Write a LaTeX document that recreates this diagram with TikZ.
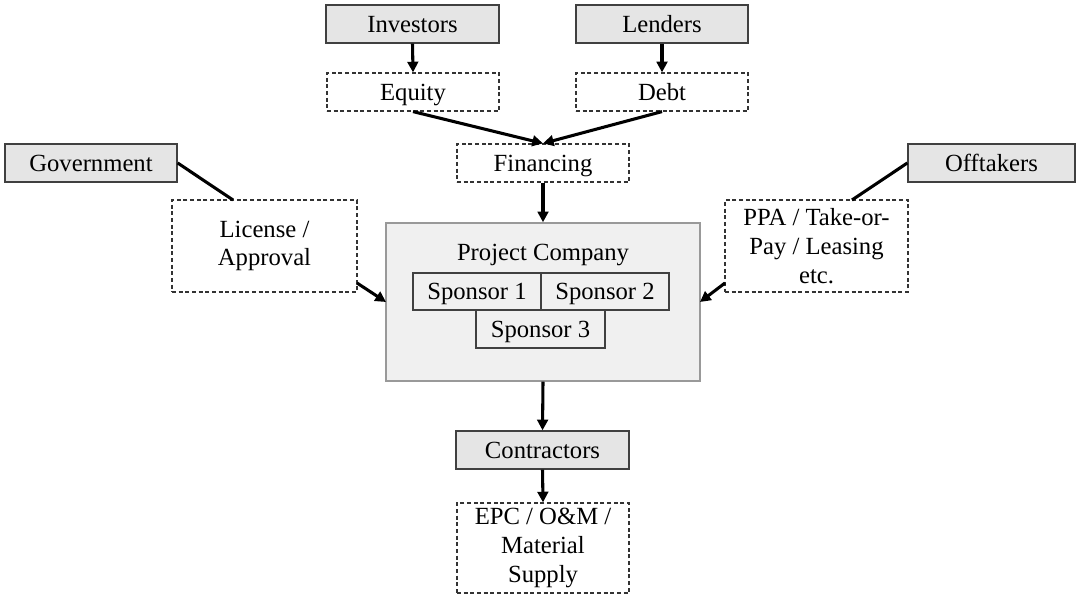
\documentclass[tikz,border=0pt]{standalone}
\usepackage{fontspec}
\setmainfont{Liberation Serif}
\usetikzlibrary{arrows.meta,calc}
\begin{document}
\begin{tikzpicture}[x=0.75pt,y=-0.75pt,
  every node/.style={font=\fontsize{18.5}{21.5}\selectfont, inner sep=0pt, align=center},
  oneline/.style={text height=12.2pt, text depth=0pt},
  solidbox/.style={oneline, draw=black!75, fill=black!10, line width=1pt},
  dashbox/.style={draw=black!80, dashed, dash pattern=on 3pt off 2pt, line width=0.9pt},
  pcbox/.style={draw=black!40, fill=black!6, line width=1.1pt},
  spbox/.style={oneline, draw=black!75, fill=black!6, line width=1pt},
  arr/.style={line width=2.3pt, -{Triangle[length=8pt,width=8pt]}},
  ln/.style={line width=2.3pt}]
\useasboundingbox (0,0) rectangle (1080,598);
\node[solidbox, minimum width=173*0.75pt, minimum height=38*0.75pt] (inv) at (412.5,24) {Investors};
\node[solidbox, minimum width=172*0.75pt, minimum height=38*0.75pt] (len) at (662,24) {Lenders};
\node[dashbox, oneline, minimum width=172*0.75pt, minimum height=38*0.75pt] (eq) at (413,92) {Equity};
\node[dashbox, oneline, minimum width=172*0.75pt, minimum height=38*0.75pt] (debt) at (662,92) {Debt};
\node[dashbox, oneline, minimum width=172*0.75pt, minimum height=38*0.75pt] (fin) at (543,163) {Financing};
\node[solidbox, minimum width=172*0.75pt, minimum height=38*0.75pt] (gov) at (91,163) {Government};
\node[solidbox, minimum width=167*0.75pt, minimum height=38*0.75pt] (off) at (991.5,163) {Offtakers};
\node[dashbox, minimum width=185*0.75pt, minimum height=92*0.75pt] (lic) at (264.5,246) {License /\\Approval};
\node[dashbox, minimum width=183*0.75pt, minimum height=92*0.75pt] (ppa) at (816.5,246) {PPA / Take-or-\\Pay / Leasing\\etc.};
\node[pcbox, minimum width=314*0.75pt, minimum height=158*0.75pt] (pc) at (543,302) {};
\node[oneline] (pct) at (543,252) {Project Company};
\node[spbox, minimum width=128*0.75pt, minimum height=37*0.75pt] (s1) at (477,291.5) {Sponsor 1};
\node[spbox, minimum width=128*0.75pt, minimum height=37*0.75pt] (s2) at (605,291.5) {Sponsor 2};
\node[spbox, minimum width=129*0.75pt, minimum height=38*0.75pt] (s3) at (540.5,329) {Sponsor 3};
\node[solidbox, minimum width=173*0.75pt, minimum height=38*0.75pt] (con) at (542.5,450) {Contractors};
\node[dashbox, minimum width=172*0.75pt, minimum height=90*0.75pt] (epc) at (543,548) {EPC / O\&M /\\Material\\Supply};
\coordinate (govin) at (233,200);
\coordinate (offin) at (852,200);
\coordinate (licout) at (357,283);
\coordinate (pcl) at (386,302);
\coordinate (ppaout) at (725,283);
\coordinate (pcr) at (700,302);
\draw[arr] (inv.south) -- (eq.north);
\draw[arr] (len.south) -- (debt.north);
\draw[arr] (eq.south) -- (fin.north);
\draw[arr] (debt.south) -- (fin.north);
\draw[arr] (fin.south) -- (pc.north);
\draw[ln] (gov.east) -- (govin);
\draw[ln] (off.west) -- (offin);
\draw[arr] (licout) -- (pcl);
\draw[arr] (ppaout) -- (pcr);
\draw[arr] (pc.south) -- (con.north);
\draw[arr] (con.south) -- (epc.north);
\end{tikzpicture}
\end{document}
